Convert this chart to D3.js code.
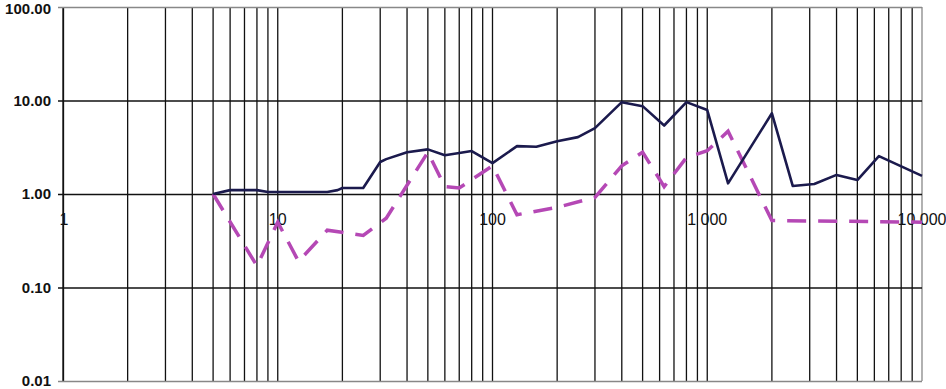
<!DOCTYPE html>
<html>
<head>
<meta charset="utf-8">
<script src="https://cdn.jsdelivr.net/npm/d3@7"></script>
<style>
  body { margin: 0; background: #fff; }
  svg { display: block; font-family: "Liberation Sans", Arial, sans-serif; }
</style>
</head>
<body>
<div id="chart"></div>
<script>
// series
const solidX = [5, 6, 8, 9, 17, 19, 20, 25, 30, 32, 40, 50, 60, 70, 80, 100, 130, 160, 200, 250, 300, 400, 500, 630, 800, 1000, 1250, 2000, 2500, 3150, 4000, 5000, 6300, 10000];
const solidY = [1.0, 1.1, 1.1, 1.05, 1.05, 1.1, 1.16, 1.16, 2.2, 2.36, 2.8, 3.0, 2.6, 2.74, 2.88, 2.14, 3.25, 3.2, 3.67, 4.06, 5.06, 9.6, 8.7, 5.4, 9.6, 7.9, 1.3, 7.3, 1.22, 1.28, 1.6, 1.41, 2.54, 1.56];

const dashX = [5, 8, 10, 12.5, 17, 25, 32, 50, 60, 70, 100, 130, 200, 300, 400, 500, 630, 800, 1000, 1250, 2000, 10000];
const dashY = [1.0, 0.17, 0.5, 0.19, 0.41, 0.36, 0.55, 2.8, 1.2, 1.16, 2.0, 0.6, 0.72, 0.92, 2.0, 2.8, 1.2, 2.45, 2.9, 4.7, 0.52, 0.5];

const yTicks = [0.01, 0.1, 1, 10, 100];
const xTicks = [1, 10, 100, 1000, 10000];
const xTickLabels = ["1", "10", "100", "1 000", "10 000"];

const chart = {
    width: 946,
    height: 389,
    margin: { top: 7, right: 24, bottom: 8, left: 63 }
};
chart.innerWidth = chart.width - chart.margin.left - chart.margin.right;
chart.innerHeight = chart.height - chart.margin.top - chart.margin.bottom;

const svg = d3.select("#chart")
    .append("svg")
    .attr("width", chart.width)
    .attr("height", chart.height)
    .append("g")
    .attr("transform", `translate(${chart.margin.left}, ${chart.margin.top})`);

const x = d3.scaleLog()
    .domain([1, 10000])
    .range([0, chart.innerWidth]);

const y = d3.scaleLog()
    .domain([0.01, 100])
    .range([chart.innerHeight, 0]);

// vertical grid at every 1..9 multiple
svg.append("g")
    .selectAll("line")
    .data(x.ticks())
    .enter()
    .append("line")
    .attr("x1", d => x(d))
    .attr("x2", d => x(d))
    .attr("y1", 0)
    .attr("y2", chart.innerHeight)
    .attr("stroke", d => d === 10000 ? "#888" : "#111")
    .attr("stroke-width", 1.3);

// y axis with horizontal grid
const yAxis = svg.append("g")
    .call(d3.axisLeft(y)
        .tickValues(yTicks)
        .tickFormat(d3.format(".2f"))
        .tickSizeInner(-chart.innerWidth)
        .tickSizeOuter(0)
        .tickPadding(12));
yAxis.select(".domain").attr("stroke", "#111").attr("stroke-width", 1.3);
yAxis.selectAll(".tick line")
    .attr("x1", -5)
    .attr("stroke", d => (d === 100 || d === 0.01) ? "#888" : "#111")
    .attr("stroke-width", 1.3);
yAxis.selectAll(".tick text")
    .attr("x", -12)
    .attr("dy", d => d === 100 ? "0.45em" : "0.32em")
    .attr("fill", "#111")
    .style("font-size", "15px")
    .style("font-weight", "bold")
    .style("font-family", "'Liberation Sans', Arial, sans-serif");

// x labels sit under the 1.00 line
svg.append("g")
    .selectAll("text")
    .data(xTicks)
    .enter()
    .append("text")
    .attr("x", (d, i) => x(d) + (i === 0 ? 1 : 0))
    .attr("y", y(1) + 31)
    .attr("text-anchor", "middle")
    .attr("fill", "#111")
    .style("font-size", "16px")
    .text((d, i) => xTickLabels[i]);

const line = d3.line()
    .x(d => x(d[0]))
    .y(d => y(d[1]));

svg.append("path")
    .datum(dashX.map((v, i) => [v, dashY[i]]))
    .attr("d", line)
    .attr("fill", "none")
    .attr("stroke", "#b548b5")
    .attr("stroke-width", 3.5)
    .attr("stroke-dasharray", "19 12");

svg.append("path")
    .datum(solidX.map((v, i) => [v, solidY[i]]))
    .attr("d", line)
    .attr("fill", "none")
    .attr("stroke", "#1b1a4d")
    .attr("stroke-width", 2.6)
    .attr("stroke-linejoin", "round");
</script>
</body>
</html>
